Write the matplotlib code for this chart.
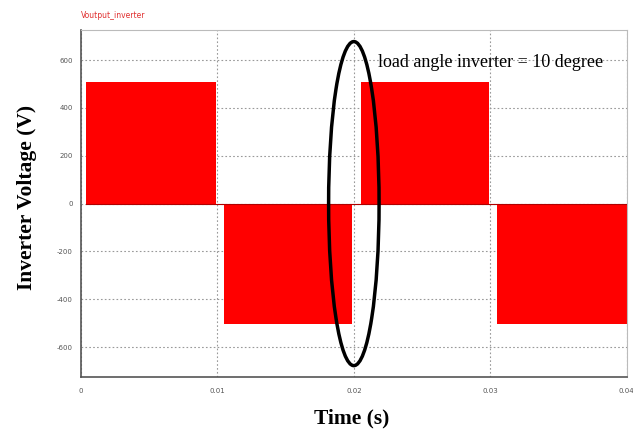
import matplotlib.pyplot as plt
from matplotlib.patches import Ellipse
import numpy as np

plt.rcParams['axes.unicode_minus'] = False

# pulse segments of the inverter output
seg_start = [0.0004, 0.0105, 0.0205, 0.0305]
seg_end = [0.0099, 0.0199, 0.0299, 0.0400]
level = [510, -505, 510, -505]

x_ticks = [0, 0.01, 0.02, 0.03, 0.04]
x_labels = ['0', '0.01', '0.02', '0.03', '0.04']
y_ticks = [600, 400, 200, 0, -200, -400, -600]

fig = plt.figure(figsize=(6.33, 4.3), dpi=100)
ax = fig.add_axes([0.128, 0.123, 0.862, 0.807])

widths = np.array(seg_end) - np.array(seg_start)
ax.bar(seg_start, level, width=widths, align='edge', color='#ff0000', zorder=2)
ax.plot([0.0004, 0.04], [0, 0], color='#b00000', lw=0.8, zorder=3)

ax.set_xlim(0, 0.04)
ax.set_ylim(-725, 725)
ax.set_xticks(x_ticks)
ax.set_xticklabels(x_labels)
ax.set_yticks(y_ticks)
ax.tick_params(length=0, labelsize=5, labelcolor='#555555')
ax.tick_params(axis='x', pad=8)
ax.tick_params(axis='y', pad=6)
ax.grid(True, linestyle=(0, (1.5, 2)), color='#999999', lw=0.8, zorder=0)
for side in ['top', 'right']:
    ax.spines[side].set_color('#bbbbbb')
for side in ['left', 'bottom']:
    ax.spines[side].set_color('#555555')
    ax.spines[side].set_linewidth(1.2)

# highlight ellipse around the 0.02 s transition
ell = Ellipse((0.02, 0), width=0.0037, height=1354, fill=False,
              edgecolor='black', lw=2.5, zorder=5)
ax.add_patch(ell)

ax.text(0.0218, 590, 'load angle inverter = 10 degree', fontsize=13,
        family='Liberation Serif', va='center', ha='left', zorder=6)

fig.text(0.128, 0.965, 'Voutput_inverter', color='#e03030', fontsize=5.5,
         ha='left', va='center')
fig.text(0.043, 0.542, 'Inverter Voltage (V)', rotation=90, fontsize=15.5,
         fontweight='bold', family='Liberation Serif', ha='center', va='center')
fig.text(0.556, 0.026, 'Time (s)', fontsize=15.5, fontweight='bold',
         family='Liberation Serif', ha='center', va='center')

fig.savefig('out.png', dpi=100)
